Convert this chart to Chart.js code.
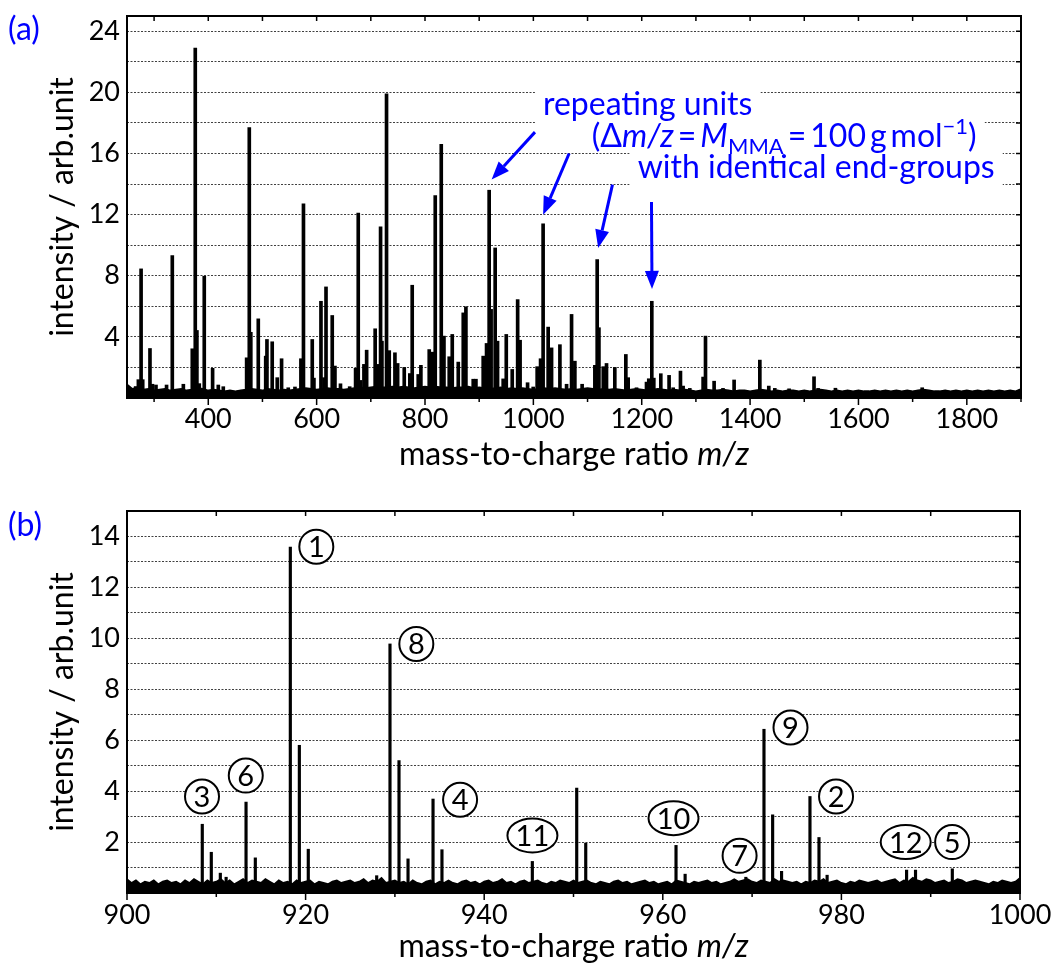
<!DOCTYPE html>
<html>
<head>
<meta charset="utf-8">
<title>Mass spectrum</title>
<script src="https://cdn.jsdelivr.net/npm/chart.js"></script>
<style>
  html, body { margin: 0; padding: 0; background: #fff; }
  #wrap { position: relative; width: 1054px; height: 965px; }
  canvas { position: absolute; left: 0; }
  #chartA { top: 0; }
  #chartB { top: 480px; }
</style>
</head>
<body>
<div id="wrap">
  <canvas id="chartA" width="1054" height="480"></canvas>
  <canvas id="chartB" width="1054" height="485"></canvas>
</div>
<script>
// (a) full spectrum: peak positions (m/z) and heights
const mzA = [
  266, 271, 276, 279, 292.4, 297, 303.5, 323, 333.6, 354,
  370.5, 376, 379, 383.4, 392.6, 408, 418.5, 427.7, 470.8, 475.7,
  478.5, 492.3, 506, 508.3, 518, 527.3, 535.3, 547.6, 560, 571,
  575.7, 591.9, 595, 608, 613.5, 617.3, 628.8, 633.8, 644, 661,
  671.9, 676.8, 681, 687.3, 692.3, 708, 712, 718, 720.5, 729,
  734, 744.5, 749.5, 761.7, 772, 776.4, 787.5, 792.4, 807.8, 813.4,
  818.9, 830, 835, 844.7, 850.3, 861.4, 870.6, 875.5, 889, 894,
  907.4, 913.6, 918.4, 922, 929.5, 933.9, 944.3, 950, 961, 971,
  975.5, 989.3, 999.7, 1007, 1013.3, 1018, 1027.3, 1033.6, 1049, 1061.3,
  1070.5, 1076.6, 1090, 1113.5, 1117.8, 1121, 1129, 1135, 1150.3, 1170.7,
  1175, 1190.4, 1208.8, 1213, 1218.6, 1222.3, 1235.2, 1250.5, 1258, 1271.5,
  1276.4, 1288.7, 1313.3, 1317.7, 1333.6, 1350, 1370.5, 1418, 1434.5, 1445.6,
  1472, 1518, 1525.5, 1557.5, 1717.6
];
const intA = [
  0.75, 1.2, 8.45, 1.2, 3.24, 0.9, 0.85, 0.85, 9.32, 0.9,
  3.22, 22.9, 4.42, 0.94, 7.97, 1.94, 0.85, 0.74, 2.63, 17.7,
  4.3, 5.18, 2.74, 3.83, 3.68, 1.33, 2.57, 0.67, 0.72, 2.57,
  12.7, 3.83, 1.3, 6.33, 1.33, 7.27, 5.4, 2.09, 0.93, 0.74,
  1.94, 12.1, 1.15, 2.2, 3.13, 4.53, 2.2, 11.2, 3.72, 19.9,
  3.1, 2.96, 2.26, 2.0, 1.6, 7.38, 1.54, 2.14, 3.17, 3.0,
  13.24, 16.6, 4.05, 2.7, 4.16, 2.35, 5.57, 5.97, 1.23, 1.23,
  2.74, 3.57, 13.6, 5.8, 9.82, 3.72, 1.25, 4.16, 1.87, 6.44,
  3.78, 1.0, 0.72, 2.05, 2.57, 11.4, 4.64, 3.28, 3.49, 0.9,
  5.47, 2.41, 0.9, 2.14, 9.06, 4.6, 2.05, 2.26, 2.0, 2.85,
  1.33, 0.67, 1.04, 1.26, 6.33, 1.3, 1.59, 1.48, 0.67, 1.76,
  0.78, 0.63, 1.37, 4.05, 1.1, 0.63, 1.18, 2.48, 0.78, 0.63,
  0.6, 1.39, 0.63, 0.64, 0.67
];
// noise floor of (a), read every 10 m/z starting at 250
const baseStartA = 250, baseStepA = 10;
const baseA = [
  0.9, 0.6, 0.7, 0.55, 0.6, 0.5, 0.55, 0.6, 0.5, 0.55,
  0.6, 0.5, 0.55, 0.65, 0.6, 0.5, 0.55, 0.5, 0.45, 0.5,
  0.45, 0.5, 0.55, 0.6, 0.55, 0.5, 0.6, 0.55, 0.5, 0.55,
  0.5, 0.55, 0.6, 0.65, 0.6, 0.55, 0.6, 0.65, 0.6, 0.6,
  0.55, 0.6, 0.65, 0.7, 0.65, 0.7, 0.75, 0.7, 0.7, 0.75,
  0.7, 0.75, 0.7, 0.65, 0.7, 0.75, 0.7, 0.75, 0.7, 0.7,
  0.65, 0.7, 0.7, 0.75, 0.65, 0.7, 0.65, 0.6, 0.65, 0.7,
  0.6, 0.65, 0.6, 0.65, 0.6, 0.55, 0.6, 0.65, 0.6, 0.65,
  0.6, 0.55, 0.6, 0.55, 0.6, 0.65, 0.6, 0.55, 0.6, 0.55,
  0.6, 0.55, 0.5, 0.55, 0.6, 0.55, 0.5, 0.55, 0.6, 0.55,
  0.5, 0.55, 0.5, 0.55, 0.5, 0.45, 0.5, 0.55, 0.5, 0.5,
  0.55, 0.5, 0.45, 0.5, 0.5, 0.45, 0.5, 0.55, 0.5, 0.45,
  0.5, 0.45, 0.5, 0.5, 0.45, 0.5, 0.45, 0.5, 0.55, 0.5,
  0.45, 0.5, 0.45, 0.5, 0.45, 0.5, 0.45, 0.45, 0.5, 0.45,
  0.5, 0.45, 0.5, 0.45, 0.5, 0.45, 0.5, 0.55, 0.5, 0.45,
  0.45, 0.5, 0.45, 0.5, 0.45, 0.5, 0.45, 0.5, 0.45, 0.5,
  0.45, 0.5, 0.45, 0.5, 0.45, 0.6
];
const xLabelsA = [400, 600, 800, 1000, 1200, 1400, 1600, 1800];
const yLabelsA = [4, 8, 12, 16, 20, 24];

// (b) zoom 900-1000
const mzB = [
  908.43, 909.44, 910.45, 911.1, 913.33, 914.37, 918.29, 919.3, 920.3, 927.96,
  929.45, 930.46, 931.47, 934.27, 935.27, 945.39, 950.36, 951.37, 961.48, 962.5,
  969.3, 971.33, 972.3, 973.3, 976.48, 977.49, 978.4, 987.3, 988.3, 992.42
];
const intB = [
  2.7, 1.6, 0.78, 0.62, 3.57, 1.38, 13.58, 5.8, 1.72, 0.68,
  9.78, 5.2, 1.34, 3.69, 1.7, 1.24, 4.12, 1.96, 1.87, 0.74,
  0.62, 6.43, 3.07, 0.85, 3.79, 2.18, 0.7, 0.9, 0.9, 0.95
];
// noise floor of (b), read every 0.5 m/z starting at 900
const baseStartB = 900, baseStepB = 0.5;
const baseB = [
  0.55, 0.4, 0.5, 0.35, 0.45, 0.4, 0.5, 0.35, 0.45, 0.5,
  0.4, 0.45, 0.35, 0.5, 0.4, 0.55, 0.45, 0.35, 0.5, 0.4,
  0.45, 0.55, 0.4, 0.5, 0.35, 0.45, 0.55, 0.4, 0.5, 0.45,
  0.4, 0.55, 0.45, 0.35, 0.5, 0.4, 0.45, 0.35, 0.5, 0.4,
  0.45, 0.5, 0.35, 0.45, 0.4, 0.35, 0.45, 0.5, 0.4, 0.45,
  0.5, 0.4, 0.45, 0.55, 0.4, 0.5, 0.45, 0.6, 0.4, 0.45,
  0.5, 0.4, 0.45, 0.35, 0.5, 0.4, 0.35, 0.45, 0.5, 0.35,
  0.45, 0.4, 0.5, 0.4, 0.35, 0.45, 0.5, 0.4, 0.45, 0.35,
  0.45, 0.5, 0.4, 0.45, 0.55, 0.4, 0.45, 0.35, 0.45, 0.5,
  0.4, 0.45, 0.5, 0.4, 0.35, 0.45, 0.4, 0.5, 0.45, 0.4,
  0.5, 0.4, 0.45, 0.5, 0.4, 0.35, 0.45, 0.4, 0.35, 0.45,
  0.5, 0.4, 0.45, 0.35, 0.4, 0.45, 0.5, 0.4, 0.45, 0.35,
  0.4, 0.45, 0.35, 0.5, 0.45, 0.4, 0.35, 0.45, 0.4, 0.45,
  0.5, 0.4, 0.45, 0.35, 0.4, 0.45, 0.55, 0.45, 0.5, 0.55,
  0.45, 0.4, 0.5, 0.45, 0.4, 0.55, 0.45, 0.5, 0.45, 0.4,
  0.45, 0.35, 0.45, 0.4, 0.5, 0.45, 0.55, 0.4, 0.45, 0.5,
  0.4, 0.35, 0.45, 0.4, 0.5, 0.45, 0.4, 0.45, 0.5, 0.4,
  0.45, 0.5, 0.55, 0.4, 0.5, 0.45, 0.6, 0.5, 0.45, 0.55,
  0.5, 0.4, 0.45, 0.5, 0.4, 0.45, 0.55, 0.5, 0.4, 0.45,
  0.5, 0.45, 0.4, 0.35, 0.45, 0.4, 0.5, 0.45, 0.4, 0.45,
  0.6
];
const xLabelsB = [900, 920, 940, 960, 980, 1000];
const yLabelsB = [2, 4, 6, 8, 10, 12, 14];

// circled peak numbers in (b), placed in data units
const tagText = ['1', '6', '3', '8', '4', '11', '10', '7', '9', '2', '12', '5'];
const tagMz   = [921.2, 913.3, 908.4, 932.4, 937.3, 945.4, 961.2, 968.6, 974.3, 979.4, 987.2, 992.4];
const tagInt  = [13.6, 4.61, 3.79, 9.78, 3.66, 2.26, 2.94, 1.46, 6.5, 3.79, 2.0, 2.0];

// blue notes in (a)
const notes = [
  {parts: [['repeating units', '']], mz: 1211, val: 18.54, up: 27, down: 11},
  {parts: [['(\u0394', ''], ['m/z', 'i'], ['\u2009=\u2009', ''], ['M', 'i'], ['MMA', 'sub'],
           ['\u2009=\u2009100\u2009g\u2009mol', ''], ['\u22121', 'sup'], [')', '']],
   mz: 1463, val: 16.44, up: 28, down: 5},
  {parts: [['with identical end-groups', '']], mz: 1522, val: 14.41, up: 28, down: 10}
];
const arrowFrom = [[1003, 17.4], [1066, 16.0], [1146, 13.96], [1218, 12.83]];
const arrowTo   = [[923, 14.3], [1018, 12.0], [1119.6, 9.82], [1219, 7.14]];

const BLUE = '#0000ff';
Chart.defaults.font.family = 'Lato';
Chart.defaults.color = '#000';

function fontFor(kind, size) {
  const s = (kind === 'sub' || kind === 'sup') ? Math.round(size * 0.7) : size;
  return (kind === 'i' ? 'italic ' : '') + s + 'px Lato';
}
function richWidth(ctx, parts, size) {
  let w = 0;
  parts.forEach(([t, k]) => { ctx.font = fontFor(k, size); w += ctx.measureText(t).width; });
  return w;
}
function drawRich(ctx, parts, cx, base, size) {
  const w = richWidth(ctx, parts, size);
  let px = cx - w / 2;
  ctx.textAlign = 'left';
  ctx.textBaseline = 'alphabetic';
  parts.forEach(([t, k]) => {
    ctx.font = fontFor(k, size);
    const dy = k === 'sub' ? size * 0.22 : k === 'sup' ? -size * 0.4 : 0;
    ctx.fillText(t, px, base + dy);
    px += ctx.measureText(t).width;
  });
  return w;
}
function arrow(ctx, x1, y1, x2, y2) {
  const ang = Math.atan2(y2 - y1, x2 - x1), L = 18, W = 7;
  const bx = x2 - L * Math.cos(ang), by = y2 - L * Math.sin(ang);
  ctx.beginPath(); ctx.moveTo(x1, y1); ctx.lineTo(bx, by); ctx.stroke();
  ctx.beginPath();
  ctx.moveTo(x2, y2);
  ctx.lineTo(bx + W * Math.sin(ang), by - W * Math.cos(ang));
  ctx.lineTo(bx - W * Math.sin(ang), by + W * Math.cos(ang));
  ctx.closePath(); ctx.fill();
}

const deco = {
  id: 'deco',
  afterDraw(chart, args, o) {
    const {ctx, chartArea: a} = chart;
    const x = chart.scales.x, y = chart.scales.y;
    ctx.save();
    // tick marks: bottom outward, top and right inward; labels under the major ones
    ctx.strokeStyle = '#000';
    ctx.lineWidth = 1.5;
    ctx.beginPath();
    x.ticks.forEach(t => {
      const px = x.getPixelForValue(t.value);
      const big = o.xLabels.includes(t.value);
      ctx.moveTo(px, a.bottom); ctx.lineTo(px, a.bottom + (big ? 7 : 4));
      ctx.moveTo(px, a.top); ctx.lineTo(px, a.top + 5);
    });
    y.ticks.forEach(t => {
      const py = y.getPixelForValue(t.value);
      ctx.moveTo(a.right, py); ctx.lineTo(a.right - 5, py);
    });
    ctx.stroke();
    ctx.lineWidth = 2;
    ctx.strokeRect(a.left, a.top, a.right - a.left, a.bottom - a.top);

    ctx.fillStyle = '#000';
    ctx.font = '27px Lato';
    ctx.textAlign = 'center'; ctx.textBaseline = 'alphabetic';
    x.ticks.forEach(t => {
      if (o.xLabels.includes(t.value)) ctx.fillText(String(t.value), x.getPixelForValue(t.value), a.bottom + o.labelDy);
    });

    // notes with white boxes and arrows
    (o.notes || []).forEach(n => {
      const cx = x.getPixelForValue(n.mz), base = y.getPixelForValue(n.val);
      const w = richWidth(ctx, n.parts, 32);
      ctx.fillStyle = '#fff';
      ctx.fillRect(cx - w / 2 - 8, base - n.up, w + 16, n.up + n.down);
    });
    ctx.fillStyle = BLUE;
    (o.notes || []).forEach(n => {
      drawRich(ctx, n.parts, x.getPixelForValue(n.mz), y.getPixelForValue(n.val), 32);
    });
    if (o.arrows) {
      ctx.strokeStyle = BLUE; ctx.fillStyle = BLUE; ctx.lineWidth = 3;
      o.arrows.from.forEach((f, i) => {
        const t = o.arrows.to[i];
        arrow(ctx, x.getPixelForValue(f[0]), y.getPixelForValue(f[1]),
                   x.getPixelForValue(t[0]), y.getPixelForValue(t[1]));
      });
    }

    // circled peak numbers
    if (o.tags) {
      o.tags.text.forEach((s, i) => {
        const cx = x.getPixelForValue(o.tags.mz[i]), cy = y.getPixelForValue(o.tags.val[i]);
        const rx = s.length > 1 ? 25 : 17;
        ctx.beginPath();
        ctx.ellipse(cx, cy, rx, 17, 0, 0, Math.PI * 2);
        ctx.fillStyle = '#fff'; ctx.fill();
        ctx.strokeStyle = '#000'; ctx.lineWidth = 2; ctx.stroke();
        ctx.fillStyle = '#000';
        ctx.font = '29px Lato';
        ctx.textAlign = 'center'; ctx.textBaseline = 'alphabetic';
        ctx.fillText(s, cx, cy + 10.5);
      });
    }

    // x axis title with italic m/z
    ctx.fillStyle = '#000';
    drawRich(ctx, [['mass-to-charge ratio ', ''], ['m/z', 'i']], (a.left + a.right) / 2, a.bottom + o.titleDy, 32);

    // panel letter
    ctx.fillStyle = BLUE;
    ctx.font = '32px Lato';
    ctx.textAlign = 'left'; ctx.textBaseline = 'middle';
    ctx.fillText(o.panel, 8, o.panelY);
    ctx.restore();
  }
};

function makeChart(id, c) {
  const peaks = c.mz.map((m, i) => ({x: m, y: c.int[i]}));
  const floor = c.base.map((v, i) => ({x: c.baseStart + i * c.baseStep, y: v}));
  return new Chart(document.getElementById(id), {
    type: 'bar',
    data: {
      datasets: [
        {type: 'bar', data: peaks, backgroundColor: '#000', barThickness: c.barW, grouped: false, order: 1},
        {type: 'line', data: floor, borderColor: '#000', borderWidth: 1.5, pointRadius: 0,
         fill: 'origin', backgroundColor: '#000', tension: 0, order: 2}
      ]
    },
    options: {
      responsive: false,
      animation: false,
      events: [],
      layout: {padding: {left: 40, top: c.padTop, right: c.padRight, bottom: 0}},
      plugins: {
        legend: {display: false},
        tooltip: {enabled: false},
        deco: c.deco
      },
      scales: {
        x: {
          type: 'linear', min: c.xMin, max: c.xMax, offset: false,
          grid: {display: false, offset: false},
          border: {display: false},
          ticks: {display: false, stepSize: c.xStep, includeBounds: false, autoSkip: false},
          afterFit: s => { s.height = c.xAxisH; s.paddingLeft = 0; s.paddingRight = 0; }
        },
        y: {
          min: 0, max: c.yMax,
          grid: {color: 'rgba(0,0,0,0.75)', lineWidth: 1, drawTicks: false},
          border: {display: false, dash: [2, 1.5]},
          ticks: {
            stepSize: c.yStep, includeBounds: false, autoSkip: false,
            padding: 7, font: {size: 27},
            callback: v => c.yLabels.includes(v) ? String(v) : ''
          },
          title: {display: true, text: 'intensity / arb.unit', font: {size: 32}, padding: {top: 3, bottom: 0}},
          afterFit: s => { s.width = 87; s.paddingTop = 0; s.paddingBottom = 0; }
        }
      }
    },
    plugins: [deco]
  });
}

makeChart('chartA', {
  mz: mzA, int: intA, base: baseA, baseStart: baseStartA, baseStep: baseStepA,
  xMin: 250, xMax: 1900, xStep: 100, xLabels: xLabelsA,
  yMax: 25, yStep: 2, yLabels: yLabelsA,
  barW: 3, padTop: 16, padRight: 33, xAxisH: 82,
  deco: {xLabels: xLabelsA, notes: notes, arrows: {from: arrowFrom, to: arrowTo},
         labelDy: 30, titleDy: 67, panel: '(a)', panelY: 30}
});

makeChart('chartB', {
  mz: mzB, int: intB, base: baseB, baseStart: baseStartB, baseStep: baseStepB,
  xMin: 900, xMax: 1000, xStep: 10, xLabels: xLabelsB,
  yMax: 15, yStep: 1, yLabels: yLabelsB,
  barW: 2.5, padTop: 31, padRight: 34, xAxisH: 72,
  deco: {xLabels: xLabelsB, tags: {text: tagText, mz: tagMz, val: tagInt},
         labelDy: 31, titleDy: 64, panel: '(b)', panelY: 46}
});
</script>
</body>
</html>
